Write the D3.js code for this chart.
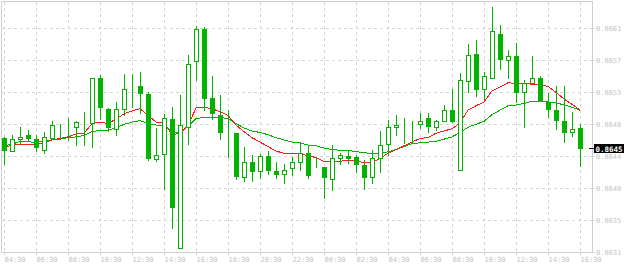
<!DOCTYPE html>
<html>
<head>
<meta charset="utf-8">
<script src="https://cdn.jsdelivr.net/npm/d3@7"></script>
<style>
  html, body { margin: 0; padding: 0; background: #fff; }
  svg { display: block; }
  text { font-family: "DejaVu Sans Mono", monospace; }
</style>
</head>
<body>
<div id="chart"></div>
<script>
// 30 minute candles, 04:30 .. 16:30 next day
const open  = [0.86464,0.86446,0.86462,0.86467,0.86462,0.86448,0.86463,0.86479,0.86478,0.86478,
               0.86483,0.86484,0.86544,0.86502,0.86476,0.86502,0.86532,0.86533,0.86523,0.86435,
               0.86442,0.86489,0.86316,0.86479,0.86567,0.86610,0.86517,0.86494,0.86470,0.86470,
               0.86411,0.86431,0.86419,0.86439,0.86419,0.86415,0.86423,0.86431,0.86443,0.86427,
               0.86424,0.86408,0.86437,0.86439,0.86438,0.86427,0.86411,0.86436,0.86455,0.86478,
               0.86483,0.86483,0.86483,0.86490,0.86479,0.86487,0.86501,0.86421,0.86540,0.86577,
               0.86529,0.86545,0.86604,0.86568,0.86574,0.86526,0.86538,0.86545,0.86512,0.86501,
               0.86486,0.86472,0.86477];
const high  = [0.86465,0.86468,0.86478,0.86474,0.86467,0.86471,0.86486,0.86483,0.86490,0.86486,
               0.86498,0.86545,0.86548,0.86504,0.86512,0.86550,0.86550,0.86552,0.86525,0.86477,
               0.86496,0.86505,0.86521,0.86575,0.86615,0.86613,0.86547,0.86522,0.86501,0.86470,
               0.86452,0.86440,0.86442,0.86446,0.86431,0.86428,0.86438,0.86455,0.86453,0.86438,
               0.86424,0.86454,0.86444,0.86446,0.86441,0.86434,0.86447,0.86473,0.86488,0.86494,
               0.86491,0.86487,0.86497,0.86497,0.86488,0.86508,0.86529,0.86551,0.86590,0.86596,
               0.86552,0.86640,0.86616,0.86582,0.86592,0.86541,0.86574,0.86547,0.86524,0.86534,
               0.86534,0.86498,0.86482];
const low   = [0.86428,0.86446,0.86455,0.86459,0.86446,0.86443,0.86462,0.86463,0.86461,0.86454,
               0.86454,0.86451,0.86489,0.86473,0.86468,0.86495,0.86505,0.86497,0.86434,0.86433,
               0.86395,0.86342,0.86316,0.86455,0.86541,0.86501,0.86489,0.86462,0.86438,0.86408,
               0.86406,0.86406,0.86410,0.86415,0.86409,0.86403,0.86414,0.86420,0.86409,0.86425,
               0.86383,0.86394,0.86429,0.86430,0.86418,0.86395,0.86403,0.86418,0.86441,0.86467,
               0.86457,0.86457,0.86477,0.86471,0.86474,0.86486,0.86485,0.86421,0.86526,0.86520,
               0.86516,0.86545,0.86556,0.86545,0.86512,0.86479,0.86537,0.86513,0.86492,0.86476,
               0.86458,0.86466,0.86426];
const close = [0.86448,0.86462,0.86465,0.86463,0.86452,0.86465,0.86481,0.86479,0.86478,0.86485,
               0.86483,0.86545,0.86505,0.86479,0.86503,0.86530,0.86532,0.86524,0.86436,0.86440,
               0.86490,0.86370,0.86481,0.86563,0.86610,0.86518,0.86497,0.86471,0.86470,0.86413,
               0.86431,0.86419,0.86439,0.86420,0.86415,0.86421,0.86431,0.86443,0.86414,0.86427,
               0.86411,0.86436,0.86440,0.86436,0.86429,0.86411,0.86437,0.86454,0.86478,0.86481,
               0.86483,0.86483,0.86487,0.86480,0.86486,0.86501,0.86486,0.86541,0.86575,0.86529,
               0.86547,0.86607,0.86570,0.86574,0.86526,0.86537,0.86545,0.86513,0.86503,0.86488,
               0.86472,0.86475,0.86450];
// moving averages
const maFast = [0.86451,0.86454,0.86455,0.86455,0.86455,0.86457,0.86461,0.86463,0.86465,0.86469,
                0.86470,0.86483,0.86485,0.86483,0.86489,0.86496,0.86500,0.86503,0.86494,0.86485,
                0.86484,0.86468,0.86470,0.86480,0.86504,0.86505,0.86503,0.86499,0.86494,0.86481,
                0.86472,0.86464,0.86458,0.86452,0.86446,0.86443,0.86442,0.86442,0.86440,0.86437,
                0.86432,0.86432,0.86432,0.86434,0.86433,0.86430,0.86431,0.86436,0.86443,0.86448,
                0.86453,0.86458,0.86463,0.86464,0.86470,0.86473,0.86476,0.86484,0.86501,0.86507,
                0.86512,0.86527,0.86532,0.86538,0.86537,0.86537,0.86536,0.86535,0.86533,0.86525,
                0.86516,0.86509,0.86501];
const maSlow = [0.86453,0.86455,0.86459,0.86459,0.86457,0.86460,0.86461,0.86462,0.86464,0.86465,
                0.86467,0.86472,0.86474,0.86474,0.86477,0.86482,0.86485,0.86487,0.86483,0.86481,
                0.86481,0.86472,0.86471,0.86479,0.86490,0.86491,0.86491,0.86491,0.86490,0.86483,
                0.86477,0.86473,0.86471,0.86468,0.86464,0.86461,0.86458,0.86457,0.86454,0.86453,
                0.86450,0.86448,0.86447,0.86447,0.86445,0.86444,0.86442,0.86443,0.86445,0.86448,
                0.86452,0.86456,0.86457,0.86458,0.86459,0.86462,0.86465,0.86471,0.86478,0.86482,
                0.86486,0.86495,0.86501,0.86507,0.86508,0.86510,0.86513,0.86513,0.86512,0.86511,
                0.86508,0.86505,0.86501];
const xLabels = ["04:30","06:30","08:30","10:30","12:30","14:30","16:30","18:30","20:30","22:30",
                 "00:30","02:30","04:30","06:30","08:30","10:30","12:30","14:30","16:30"];
const yTicks = [0.86310,0.863531,0.863962,0.864393,0.864824,0.865255,0.865686,0.866117];
const yLabels = ["0.8631","0.8635","0.8640","0.8644","0.8648","0.8653","0.8657","0.8661"];
const lastPrice = 0.8645;

const width = 624, height = 266;
const green = "#00b400", red = "#ff1a1a", gridColor = "#d6d6d6", axisText = "#c4c4c4";

const x = d3.scaleLinear().domain([0, close.length - 1]).range([4, 580]);
const y = d3.scaleLinear().domain([yTicks[0], yTicks[yTicks.length - 1]]).range([252, 28]);
const px = v => Math.round(v) + 0.5;

const svg = d3.select("#chart").append("svg")
    .attr("width", width)
    .attr("height", height)
    .attr("shape-rendering", "crispEdges");

// grid
const grid = svg.append("g");
xLabels.forEach((t, k) => {
    const gx = px(x(k * 4));
    grid.append("line")
        .attr("x1", gx).attr("x2", gx).attr("y1", 1.5).attr("y2", 252.5)
        .attr("stroke", gridColor).attr("stroke-dasharray", "3,3");
    grid.append("line")
        .attr("x1", gx).attr("x2", gx).attr("y1", 252.5).attr("y2", 255)
        .attr("stroke", gridColor);
    svg.append("text")
        .attr("x", gx).attr("y", 262)
        .attr("font-size", 7).attr("fill", axisText)
        .text(t);
});
yTicks.forEach((v, k) => {
    const gy = px(y(v));
    if (k > 0) {
        grid.append("line")
            .attr("x1", 1.5).attr("x2", 592.5).attr("y1", gy).attr("y2", gy)
            .attr("stroke", gridColor).attr("stroke-dasharray", "3,3");
    }
    grid.append("line")
        .attr("x1", 592.5).attr("x2", 595).attr("y1", gy).attr("y2", gy)
        .attr("stroke", gridColor);
    svg.append("text")
        .attr("x", 596).attr("y", gy + 2.5)
        .attr("font-size", 7).attr("fill", axisText)
        .text(yLabels[k]);
});

// frame
svg.append("rect")
    .attr("x", 1.5).attr("y", 1.5).attr("width", 591).attr("height", 251)
    .attr("fill", "none").attr("stroke", "#cfcfcf");

// moving averages
const line = d3.line().x((d, i) => x(i)).y(d => y(d));
svg.append("path").datum(maSlow)
    .attr("d", line).attr("fill", "none").attr("stroke", green).attr("stroke-width", 1);
svg.append("path").datum(maFast)
    .attr("d", line).attr("fill", "none").attr("stroke", red).attr("stroke-width", 1);

// candles
const candles = svg.append("g").selectAll("g")
    .data(close.map((c, i) => ({ i, o: open[i], h: high[i], l: low[i], c })))
    .enter().append("g");

candles.append("line")
    .attr("x1", d => px(x(d.i))).attr("x2", d => px(x(d.i)))
    .attr("y1", d => Math.round(y(d.h))).attr("y2", d => Math.round(y(d.l)) + 1)
    .attr("stroke", green);

candles.append("rect")
    .attr("x", d => px(x(d.i)) - 2)
    .attr("y", d => px(y(Math.max(d.o, d.c))))
    .attr("width", 4)
    .attr("height", d => Math.max(0, Math.round(y(Math.min(d.o, d.c))) - Math.round(y(Math.max(d.o, d.c)))))
    .attr("fill", d => d.c > d.o ? "#fff" : green)
    .attr("stroke", green);

// last price marker
const ly = px(y(lastPrice));
svg.append("line")
    .attr("x1", 589).attr("x2", 594).attr("y1", ly).attr("y2", ly)
    .attr("stroke", "#000");
svg.append("rect")
    .attr("x", 594).attr("y", ly - 4.5).attr("width", 30).attr("height", 9)
    .attr("fill", "#000");
svg.append("text")
    .attr("x", 595.5).attr("y", ly + 3)
    .attr("font-size", 7.5).attr("font-weight", "bold").attr("fill", "#fff")
    .text(lastPrice.toFixed(4));
</script>
</body>
</html>
